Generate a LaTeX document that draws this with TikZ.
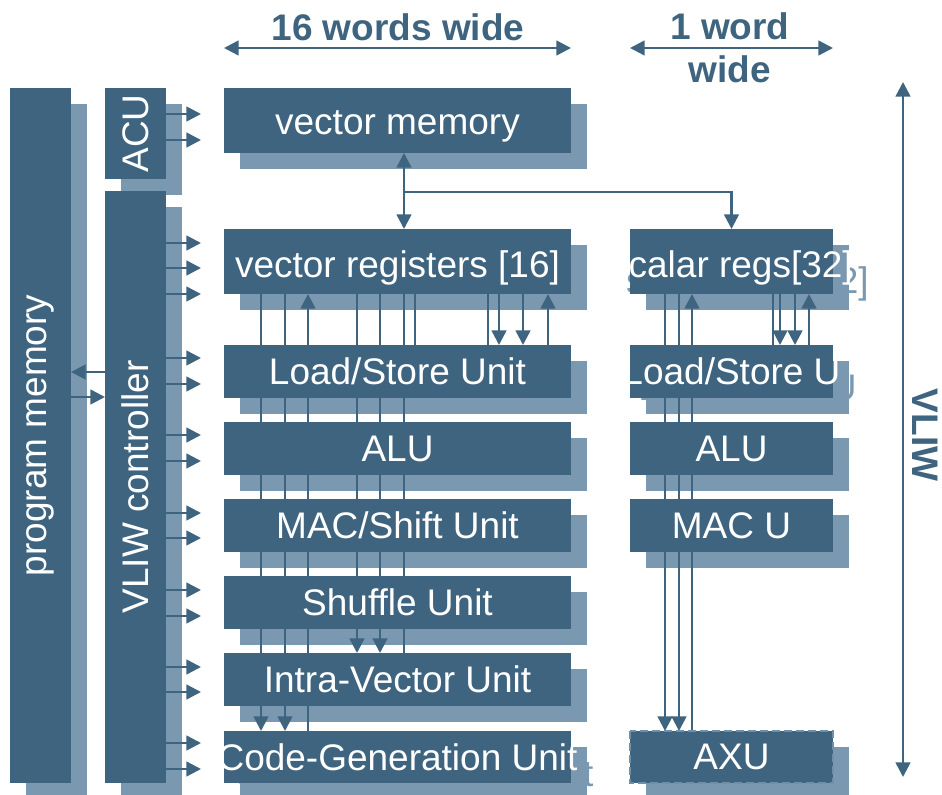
\documentclass[tikz,border=0pt]{standalone}
\usepackage{fontspec}
\setmainfont{Liberation Sans}
\usepackage{graphicx}
\usetikzlibrary{arrows.meta}
\definecolor{unitblue}{HTML}{3F6480}
\definecolor{shadeblue}{HTML}{7A98AF}
\definecolor{dashblue}{HTML}{7090A9}
\def\px{0.75pt}
\newcommand\unitfont{\fontsize{27.75}{32}\selectfont}
\newcommand\ut[1]{\makebox[0pt]{#1}}
\pgfdeclarelayer{shade}
\pgfdeclarelayer{wire}
\pgfsetlayers{shade,wire,main}
\tikzset{
  unitbox/.style={fill=unitblue, text=white, inner sep=0pt, outer sep=0pt,
    anchor=north west, font=\unitfont},
  shadebox/.style={unitbox, fill=shadeblue, text=shadeblue},
  bus/.style={draw=unitblue, line width=1.9pt},
  headtext/.style={text=unitblue, font=\unitfont\bfseries, align=center},
}
\begin{document}
\begin{tikzpicture}[x=\px, y=-\px, >={Triangle[width=11pt,length=11pt]}]
  \useasboundingbox (0,0) rectangle (942,795);
  % boxes and their shadows
  \foreach \nm/\x/\y/\w/\h/\rot/\dy/\txt in {
      pm/10/88/61/695/90/0/{program memory},
      acu/105/88/61/91/90/0/ACU,
      ctrl/105/191/61/592/90/0/{VLIW controller},
      vm/224/88/347/65/0/4.5/{vector memory},
      vr/224/229/347/65/0/4.5/{vector registers [16]},
      lsu/224/345/347/53/0/0/{Load/Store Unit},
      alu/224/422/347/53/0/0/ALU,
      mac/224/499/347/53/0/0/{MAC/Shift Unit},
      shuf/224/576/347/53/0/0/{Shuffle Unit},
      intra/224/653/347/53/0/0/{Intra-Vector Unit},
      cgu/224/731/347/52/0/0/{Code-Generation Unit},
      sr/630/229/203/65/0/4.5/{scalar regs[32]},
      slsu/630/345/203/53/0/0/{Load/Store U},
      salu/630/422/203/53/0/0/ALU,
      smac/630/499/203/53/0/0/{MAC U},
      axu/630/731/203/52/0/0/AXU} {
    \node[unitbox, minimum width=\w*\px, minimum height=\h*\px] (\nm) at (\x,\y)
      {\raisebox{-\dy pt}[\height][\depth]{\rotatebox{\rot}{\ut{\txt}}}};
    \begin{pgfonlayer}{shade}
      \node[shadebox, minimum width=\w*\px, minimum height=\h*\px] at (\x+16,\y+16)
        {\raisebox{-\dy pt}[\height][\depth]{\rotatebox{\rot}{\ut{\txt}}}};
    \end{pgfonlayer}
  }
  \draw[dashblue, line width=1.5pt, dash pattern=on 6pt off 3pt]
    (axu.north west) rectangle (axu.south east);

  \begin{pgfonlayer}{wire}
    % vector and scalar data paths
    \foreach \dx/\a/\b/\tip in {37/vr/cgu/->, 61/vr/cgu/->, 133/vr/intra/->,
        156/vr/intra/->, 180/vr/intra/-, 191/vr/lsu/-, 264/vr/lsu/-,
        275/vr/lsu/->, 299/vr/lsu/->,
        35/sr/axu/->, 49/sr/axu/->, 143/sr/slsu/-, 150/sr/slsu/->,
        165/sr/slsu/->}
      \draw[bus,\tip] ([xshift=\dx*\px]\a.south west) -- ([xshift=\dx*\px]\b.north west);
    \foreach \dx/\a/\b in {84/cgu/vr, 324/lsu/vr, 62/axu/sr, 179/slsu/sr}
      \draw[bus,->] ([xshift=\dx*\px]\a.north west) -- ([xshift=\dx*\px]\b.south west);
    % memory bus
    \coordinate (jn) at (404,192);
    \draw[bus,<->] (vm.south -| jn) -- (vr.north -| jn);
    \draw[bus,->] (jn) -| (sr.north);
    % control lines
    \foreach \y in {114,140}
      \draw[bus,->] (acu.east |- 0,\y) -- ++(35,0);
    \foreach \y in {243,268,294,358,384,435,461,513,538,590,616,667,692,743,769}
      \draw[bus,->] (ctrl.east |- 0,\y) -- ++(35,0);
    \draw[bus,->] (ctrl.west |- 0,372) -- (pm.east |- 0,372);
    \draw[bus,->] (pm.east |- 0,397) -- (ctrl.west |- 0,397);
  \end{pgfonlayer}

  % widths
  \node[headtext] (wide16) at (398,27) {16 words wide};
  \node[headtext] (wide1) at (730,48) {1 word\\wide};
  \draw[bus,<->] (vm.west |- 0,48) -- (vm.east |- 0,48);
  \draw[bus,<->] (sr.west |- 0,48) -- (sr.east |- 0,48);
  \coordinate (vliwtop) at (903,82);
  \coordinate (vliwbot) at (903,777);
  \draw[bus,<->] (vliwtop) -- (vliwbot);
  \node[headtext, rotate=-90] (vliw) at (925,435) {VLIW};
\end{tikzpicture}
\end{document}
